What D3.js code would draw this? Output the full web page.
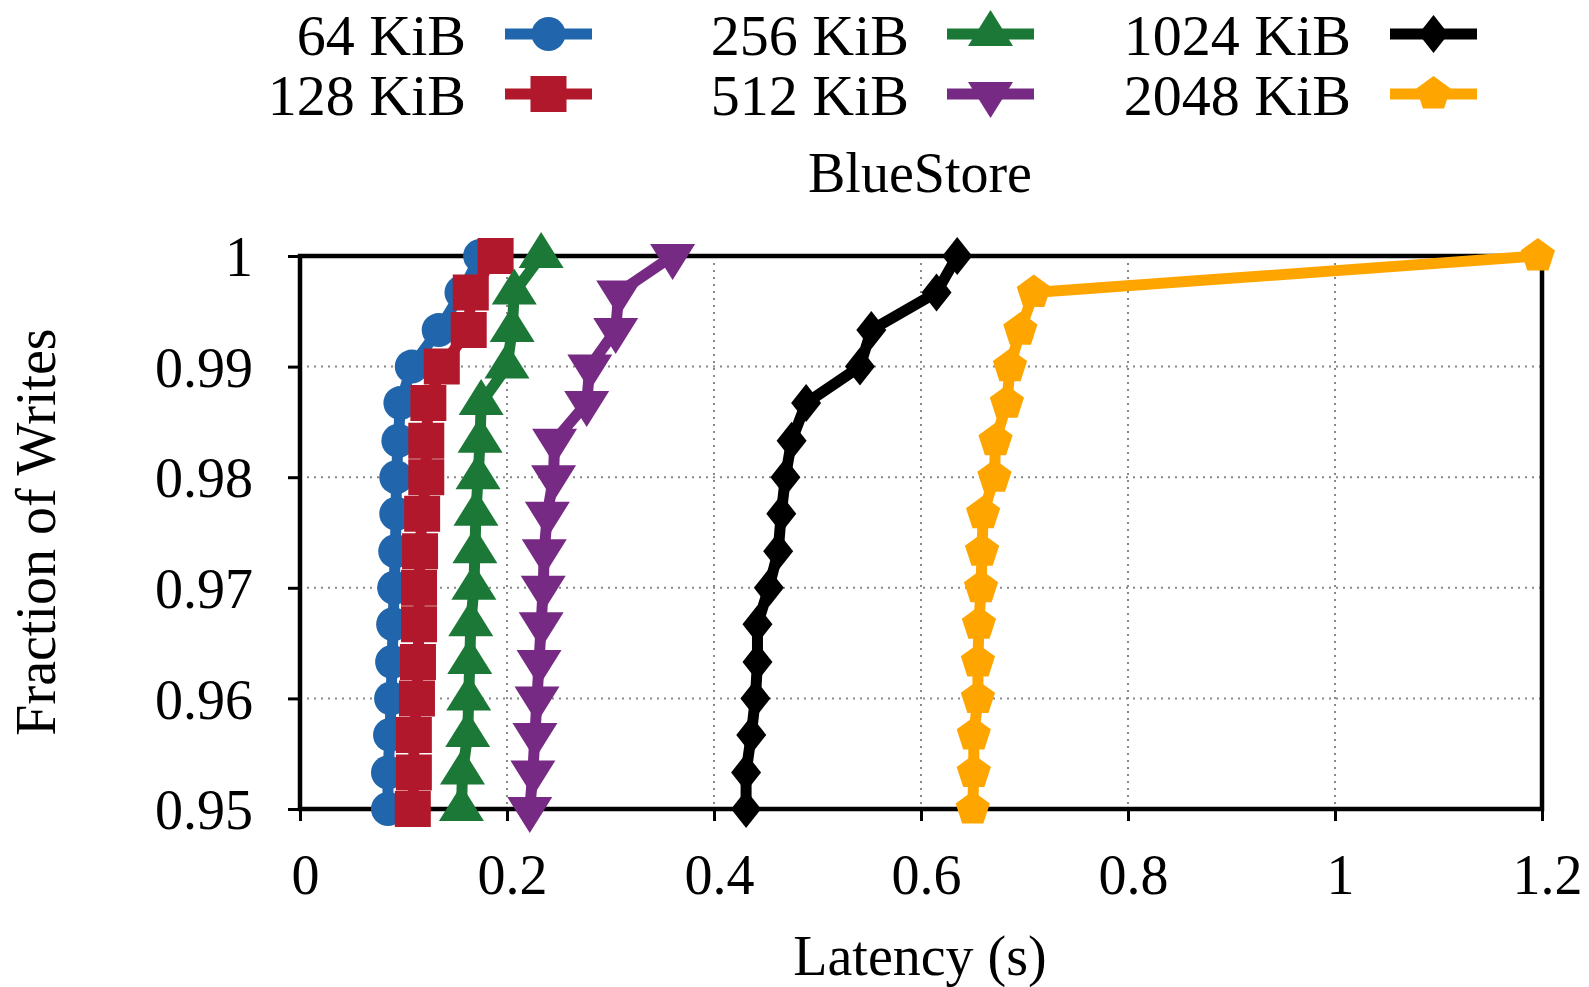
<!DOCTYPE html>
<html lang="en">
  <head>
    <meta charset="UTF-8" />
    <title>BlueStore write latency CDF</title>
    <style>
      body { margin: 0; background: #fff; }
      text { font-family: "Liberation Serif", "Times New Roman", serif; fill: #000; }
    </style>
  </head>
  <body>
    <div id="chart"></div>
    <script src="https://cdn.jsdelivr.net/npm/d3@7"></script>
    <script>
    var width = 1589;
    var height = 987;

    // fraction of writes (y) shared by every series
    var fractions = [0.95, 0.9533, 0.9567, 0.96, 0.9633, 0.9667, 0.97, 0.9733,
                     0.9767, 0.98, 0.9833, 0.9867, 0.99, 0.9933, 0.9967, 1.0];

    var seriesNames = ["64 KiB", "128 KiB", "256 KiB", "512 KiB", "1024 KiB", "2048 KiB"];
    var lat64   = [0.085, 0.085, 0.087, 0.088, 0.089, 0.090, 0.091, 0.092, 0.093, 0.093, 0.095, 0.097, 0.108, 0.134, 0.156, 0.174];
    var lat128  = [0.109, 0.110, 0.110, 0.113, 0.114, 0.115, 0.115, 0.116, 0.118, 0.122, 0.122, 0.124, 0.137, 0.163, 0.165, 0.189];
    var lat256  = [0.156, 0.157, 0.162, 0.163, 0.164, 0.165, 0.168, 0.169, 0.170, 0.172, 0.174, 0.175, 0.200, 0.205, 0.207, 0.233];
    var lat512  = [0.222, 0.225, 0.227, 0.229, 0.231, 0.233, 0.235, 0.236, 0.239, 0.245, 0.246, 0.277, 0.280, 0.305, 0.308, 0.360];
    var lat1024 = [0.431, 0.431, 0.436, 0.440, 0.442, 0.442, 0.453, 0.462, 0.465, 0.469, 0.475, 0.489, 0.541, 0.552, 0.615, 0.635];
    var lat2048 = [0.650, 0.651, 0.651, 0.655, 0.655, 0.656, 0.658, 0.659, 0.660, 0.671, 0.672, 0.683, 0.686, 0.696, 0.709, 1.196];

    var xTicks = [0, 0.2, 0.4, 0.6, 0.8, 1, 1.2];
    var yTicks = [0.95, 0.96, 0.97, 0.98, 0.99, 1];

    var colors = ["#2166ac", "#b2182b", "#1b7837", "#762a83", "#000000", "#ffa500"];
    var shapes = ["circle", "square", "triUp", "triDown", "diamond", "pentagon"];

    var allLat = [lat64, lat128, lat256, lat512, lat1024, lat2048];
    var series = seriesNames.map(function(name, i){
      return {
        name: name,
        color: colors[i],
        shape: shapes[i],
        points: allLat[i].map(function(v, j){ return {x: v, y: fractions[j]}; })
      };
    });

    function markerPath(shape){
      if(shape == "circle"){
        return "M17,0A17,17 0 1,1 -17,0A17,17 0 1,1 17,0Z";
      }
      if(shape == "square"){
        return "M-18,-18L18,-18L18,18L-18,18Z";
      }
      if(shape == "triUp"){
        return "M0,-24L22.5,12L-22.5,12Z";
      }
      if(shape == "triDown"){
        return "M0,24L22.5,-12L-22.5,-12Z";
      }
      if(shape == "diamond"){
        return "M0,-19L15,0L0,19L-15,0Z";
      }
      var pts = [];
      for(var k = 0; k < 5; k++){
        var a = (-90 + 72 * k) * Math.PI / 180;
        pts.push((18 * Math.cos(a)).toFixed(2) + "," + (18 * Math.sin(a)).toFixed(2));
      }
      return "M" + pts.join("L") + "Z";
    }

    var margin = {left: 300, right: 1542, top: 256, bottom: 809};

    var svg = d3.select("#chart")
                .append("svg")
                .attr("width", width)
                .attr("height", height);

    var x = d3.scaleLinear().domain([0, 1.2]).range([margin.left, margin.right]);
    var y = d3.scaleLinear().domain([0.95, 1]).range([margin.bottom, margin.top]);

    // grid
    svg.append("g")
       .selectAll("line")
       .data(xTicks.slice(1, -1))
       .enter()
       .append("line")
       .attr("x1", function(d){ return x(d); })
       .attr("x2", function(d){ return x(d); })
       .attr("y1", margin.top)
       .attr("y2", margin.bottom)
       .attr("stroke", "#888")
       .attr("stroke-width", 2)
       .attr("stroke-dasharray", "2,5");
    svg.append("g")
       .selectAll("line")
       .data(yTicks.slice(1, -1))
       .enter()
       .append("line")
       .attr("x1", margin.left)
       .attr("x2", margin.right)
       .attr("y1", function(d){ return y(d); })
       .attr("y2", function(d){ return y(d); })
       .attr("stroke", "#888")
       .attr("stroke-width", 2)
       .attr("stroke-dasharray", "2,5");

    // axes
    var xAxis = svg.append("g")
       .attr("transform", "translate(0," + margin.bottom + ")")
       .call(d3.axisBottom(x).tickValues(xTicks).tickSize(12).tickSizeOuter(0).tickFormat(d3.format("~g")));
    xAxis.select(".domain").remove();
    xAxis.selectAll(".tick line").attr("stroke", "#000").attr("stroke-width", 3);
    xAxis.selectAll(".tick text")
         .attr("y", 0)
         .attr("dy", 0)
         .attr("transform", "translate(5,85)")
         .style("font-size", "56px")
         .style("font-family", "'Liberation Serif', serif");

    var yAxis = svg.append("g")
       .attr("transform", "translate(" + margin.left + ",0)")
       .call(d3.axisLeft(y).tickValues(yTicks).tickSize(12).tickSizeOuter(0).tickFormat(d3.format("~g")));
    yAxis.select(".domain").remove();
    yAxis.selectAll(".tick line").attr("stroke", "#000").attr("stroke-width", 3);
    yAxis.selectAll(".tick text")
         .attr("x", -47)
         .attr("dy", "0.35em")
         .style("font-size", "56px")
         .style("font-family", "'Liberation Serif', serif");

    // border
    svg.append("rect")
       .attr("x", margin.left)
       .attr("y", margin.top)
       .attr("width", margin.right - margin.left)
       .attr("height", margin.bottom - margin.top)
       .attr("fill", "none")
       .attr("stroke", "#000")
       .attr("stroke-width", 4.5);

    var line = d3.line()
                 .x(function(d){ return x(d.x); })
                 .y(function(d){ return y(d.y); });

    series.forEach(function(s){
      var g = svg.append("g");
      g.append("path")
       .datum(s.points)
       .attr("d", line)
       .attr("fill", "none")
       .attr("stroke", s.color)
       .attr("stroke-width", 11)
       .attr("stroke-linejoin", "round");
      g.selectAll("path.pt")
       .data(s.points)
       .enter()
       .append("path")
       .attr("class", "pt")
       .attr("transform", function(d){ return "translate(" + x(d.x) + "," + y(d.y) + ")"; })
       .attr("d", markerPath(s.shape))
       .attr("fill", s.color);
    });

    // legend
    var legendCols = [{textRight: 466, lineX: 505}, {textRight: 909, lineX: 947}, {textRight: 1351, lineX: 1390}];
    var legendRows = [34, 94];
    var legend = svg.append("g");
    series.forEach(function(s, i){
      var col = legendCols[Math.floor(i / 2)];
      var cy = legendRows[i % 2];
      legend.append("text")
            .attr("x", col.textRight)
            .attr("y", cy + 21)
            .attr("text-anchor", "end")
            .style("font-size", "58px")
            .text(s.name);
      legend.append("line")
            .attr("x1", col.lineX)
            .attr("x2", col.lineX + 87)
            .attr("y1", cy)
            .attr("y2", cy)
            .attr("stroke", s.color)
            .attr("stroke-width", 11);
      legend.append("path")
            .attr("transform", "translate(" + (col.lineX + 43.5) + "," + cy + ")")
            .attr("d", markerPath(s.shape))
            .attr("fill", s.color);
    });

    svg.append("text")
       .attr("x", 920)
       .attr("y", 192)
       .attr("text-anchor", "middle")
       .style("font-size", "56px")
       .text("BlueStore");

    svg.append("text")
       .attr("x", 920)
       .attr("y", 975)
       .attr("text-anchor", "middle")
       .style("font-size", "56px")
       .text("Latency (s)");

    svg.append("text")
       .attr("transform", "translate(55,532) rotate(-90)")
       .attr("text-anchor", "middle")
       .style("font-size", "56px")
       .text("Fraction of Writes");
    </script>
  </body>
</html>
